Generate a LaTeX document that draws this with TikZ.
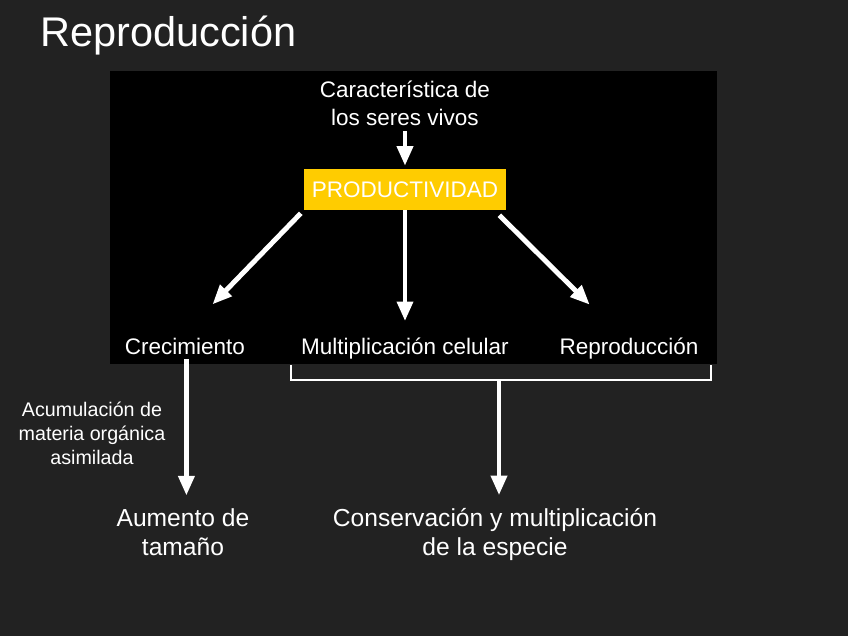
\documentclass[tikz,border=0pt]{standalone}
\usepackage{fontspec}
\setmainfont{Liberation Sans}
\usetikzlibrary{arrows.meta, positioning}
\definecolor{slidebg}{HTML}{222222}
\definecolor{prodyellow}{HTML}{FFCC00}

\begin{document}
\begin{tikzpicture}[x=0.025cm, y=-0.025cm,
        every node/.style={text=white, align=center},
        lbl/.style={font=\fontsize{16}{20.6}\selectfont},
        big/.style={font=\fontsize{17.5}{20}\selectfont},
        small/.style={font=\fontsize{14}{17}\selectfont},
        arrow/.style={-{Triangle[length=14pt, width=11pt]}, line width=3.5pt, white},
        brace/.style={line width=2pt, white}
      ]
        % background and black panel
        \fill[slidebg] (0,0) rectangle (848,636);
        \fill[black] (110,71) rectangle (717,364);
        \node[anchor=base west, font=\fontsize{29.5}{34}\selectfont, inner sep=0pt] (title) at (40,47) {Reproducción};

        % (base of a multi-line node = last line)
        \node[lbl, anchor=base] (carac) at (405,126) {Característica de\\los seres vivos};
        \node[lbl, fill=prodyellow, minimum width=202*0.025cm, minimum height=41*0.025cm, inner sep=0pt] (prod) at (405,189.5) {PRODUCTIVIDAD};

        \node[lbl, anchor=base] (crec) at (185,354) {Crecimiento};
        \node[lbl, anchor=base] (mult) at (405,354) {Multiplicación celular};
        \node[lbl, anchor=base] (repro) at (629,354) {Reproducción};

        \node[small, anchor=base] (acum) at (92,464) {Acumulación de\\materia orgánica\\asimilada};
        \node[big, anchor=base] (aumento) at (183,555) {Aumento de\\tamaño};
        \node[big, anchor=base] (conserv) at (495,555) {Conservación y multiplicación\\de la especie};

        \draw[arrow, shorten >=2pt] (carac) -- (prod);
        \draw[arrow, shorten <=3pt, shorten >=28pt] (prod.south west) -- (crec.north);
        \draw[arrow, shorten >=8pt] (prod.south) -- (mult.north);
        \draw[arrow, shorten <=5pt, shorten >=28pt] ([xshift=-8.5pt]prod.south east) -- ([xshift=-8pt]repro.north);
        \draw[arrow, shorten >=6pt] ([xshift=1pt]crec.south) -- ([xshift=1pt]crec.south |- aumento.north);

        % bracket under the two right labels
        \coordinate (bl) at (291,365);
        \coordinate (br) at (711,365);
        \coordinate (bm) at (499,380);
        \draw[brace] (bl) |- (bm) -| (br);
        \draw[arrow, shorten >=6pt] (bm) -- (bm |- conserv.north);
      \end{tikzpicture}
\end{document}
